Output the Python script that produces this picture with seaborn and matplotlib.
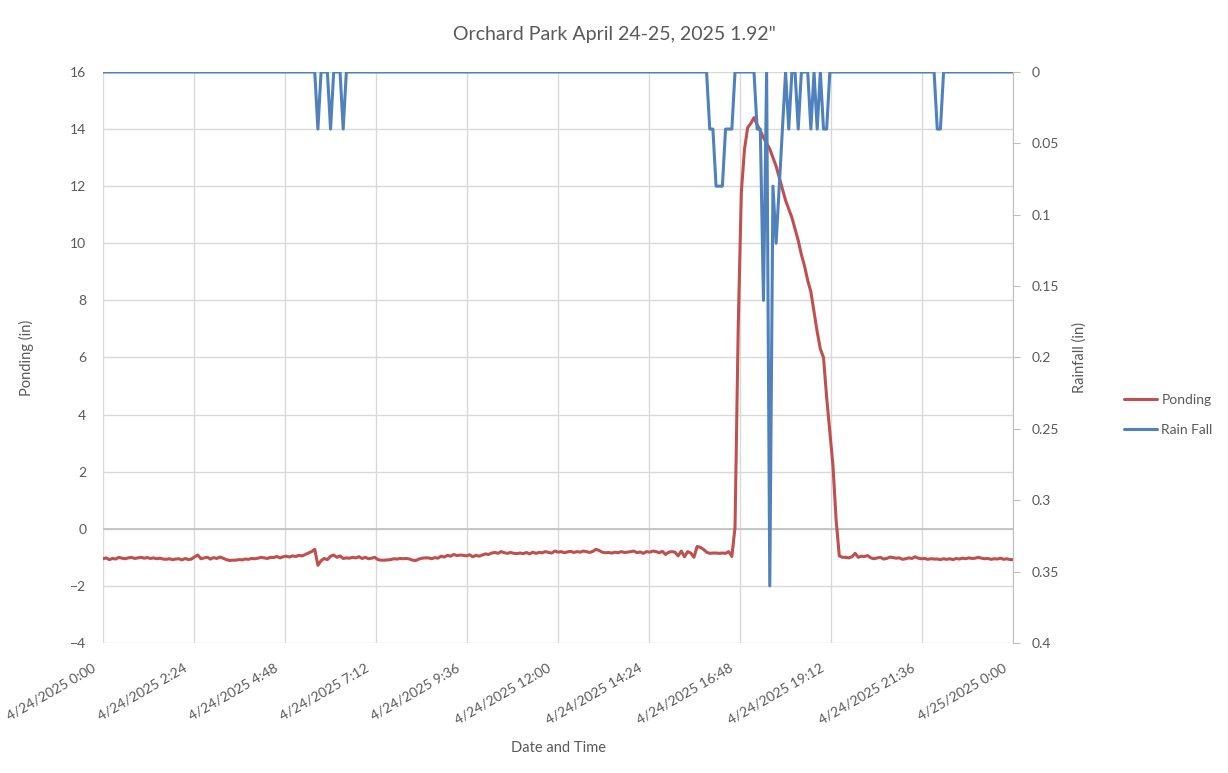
import pandas as pd
import seaborn as sns
import matplotlib.pyplot as plt
import matplotlib.dates as mdates
import matplotlib.transforms as mtransforms

# Orchard Park sensor data, 5-minute readings, 4/24/2025 0:00 -> 4/25/2025 0:00
ponding_by_hour = [
    [-1.05, -1.02, -1.08, -1.04, -1.06, -1.00, -1.03, -1.05, -1.02, -1.00, -1.04, -1.02],  # 0h
    [-1.00, -1.03, -1.01, -1.04, -1.02, -1.05, -1.03, -1.06, -1.07, -1.05, -1.08, -1.06],  # 1h
    [-1.05, -1.09, -1.04, -1.08, -1.06, -0.98, -0.92, -1.05, -1.02, -1.00, -1.06, -1.01],  # 2h
    [-1.04, -0.99, -1.03, -1.08, -1.11, -1.10, -1.10, -1.08, -1.09, -1.06, -1.07, -1.04],  # 3h
    [-1.05, -1.03, -1.00, -1.02, -1.04, -1.00, -1.01, -0.97, -1.02, -0.98, -0.96, -0.99],  # 4h
    [-0.95, -0.97, -0.93, -0.95, -0.90, -0.85, -0.80, -0.72, -1.28, -1.12, -1.04, -1.08],  # 5h
    [-0.96, -0.92, -1.00, -0.95, -1.04, -1.02, -1.03, -1.00, -1.02, -0.98, -1.04, -1.00],  # 6h
    [-1.05, -1.03, -1.00, -1.08, -1.10, -1.10, -1.09, -1.08, -1.05, -1.06, -1.04, -1.05],  # 7h
    [-1.04, -1.06, -1.10, -1.11, -1.06, -1.03, -1.02, -1.02, -1.05, -1.01, -1.03, -0.96],  # 8h
    [-0.99, -0.93, -0.96, -0.90, -0.94, -0.92, -0.93, -0.95, -0.91, -0.98, -0.93, -0.96],  # 9h
    [-0.92, -0.88, -0.90, -0.85, -0.83, -0.86, -0.80, -0.84, -0.86, -0.83, -0.86, -0.87],  # 10h
    [-0.85, -0.87, -0.83, -0.88, -0.82, -0.86, -0.83, -0.84, -0.80, -0.83, -0.85, -0.78],  # 11h
    [-0.82, -0.80, -0.84, -0.81, -0.79, -0.83, -0.80, -0.82, -0.78, -0.80, -0.83, -0.79],  # 12h
    [-0.72, -0.76, -0.82, -0.84, -0.83, -0.85, -0.82, -0.84, -0.80, -0.83, -0.82, -0.80],  # 13h
    [-0.78, -0.84, -0.81, -0.86, -0.80, -0.82, -0.78, -0.80, -0.84, -0.79, -0.90, -0.82],  # 14h
    [-0.80, -0.82, -0.95, -0.78, -0.98, -0.80, -0.85, -1.00, -0.62, -0.65, -0.72, -0.82],  # 15h
    [-0.86, -0.85, -0.85, -0.86, -0.85, -0.86, -0.80, -0.97, 0.05, 7.00, 11.80, 13.30],   # 16h
    [14.05, 14.20, 14.40, 14.15, 13.95, 13.70, 13.50, 13.30, 13.00, 12.70, 12.30, 11.90],  # 17h
    [11.50, 11.20, 10.90, 10.50, 10.10, 9.60, 9.20, 8.70, 8.30, 7.60, 6.90, 6.30],         # 18h
    [6.00, 4.60, 3.40, 2.20, 0.30, -0.95, -1.00, -1.00, -1.02, -0.98, -0.86, -1.00],       # 19h
    [-0.96, -0.97, -0.94, -1.02, -1.05, -1.02, -1.00, -1.06, -1.04, -0.99, -1.01, -1.03],  # 20h
    [-1.02, -1.07, -1.05, -1.02, -1.04, -0.98, -1.03, -1.05, -1.04, -1.07, -1.05, -1.06],  # 21h
    [-1.06, -1.08, -1.05, -1.07, -1.05, -1.08, -1.04, -1.06, -1.03, -1.05, -1.02, -1.04],  # 22h
    [-1.03, -1.00, -1.03, -1.05, -1.04, -1.07, -1.05, -1.06, -1.03, -1.07, -1.05, -1.08],  # 23h
]
ponding_end = [-1.08]

rain_by_hour = [
    [0, 0, 0, 0, 0, 0, 0, 0, 0, 0, 0, 0],  # 0h
    [0, 0, 0, 0, 0, 0, 0, 0, 0, 0, 0, 0],  # 1h
    [0, 0, 0, 0, 0, 0, 0, 0, 0, 0, 0, 0],  # 2h
    [0, 0, 0, 0, 0, 0, 0, 0, 0, 0, 0, 0],  # 3h
    [0, 0, 0, 0, 0, 0, 0, 0, 0, 0, 0, 0],  # 4h
    [0, 0, 0, 0, 0, 0, 0, 0, 0.04, 0, 0, 0],  # 5h
    [0.04, 0, 0, 0, 0.04, 0, 0, 0, 0, 0, 0, 0],  # 6h
    [0, 0, 0, 0, 0, 0, 0, 0, 0, 0, 0, 0],  # 7h
    [0, 0, 0, 0, 0, 0, 0, 0, 0, 0, 0, 0],  # 8h
    [0, 0, 0, 0, 0, 0, 0, 0, 0, 0, 0, 0],  # 9h
    [0, 0, 0, 0, 0, 0, 0, 0, 0, 0, 0, 0],  # 10h
    [0, 0, 0, 0, 0, 0, 0, 0, 0, 0, 0, 0],  # 11h
    [0, 0, 0, 0, 0, 0, 0, 0, 0, 0, 0, 0],  # 12h
    [0, 0, 0, 0, 0, 0, 0, 0, 0, 0, 0, 0],  # 13h
    [0, 0, 0, 0, 0, 0, 0, 0, 0, 0, 0, 0],  # 14h
    [0, 0, 0, 0, 0, 0, 0, 0, 0, 0, 0, 0],  # 15h
    [0.04, 0.04, 0.08, 0.08, 0.08, 0.04, 0.04, 0.04, 0, 0, 0, 0],  # 16h
    [0, 0, 0, 0.04, 0.04, 0.16, 0, 0.36, 0.08, 0.12, 0.08, 0.04],  # 17h
    [0, 0.04, 0, 0, 0.04, 0, 0, 0, 0.04, 0, 0.04, 0],  # 18h
    [0.04, 0.04, 0, 0, 0, 0, 0, 0, 0, 0, 0, 0],  # 19h
    [0, 0, 0, 0, 0, 0, 0, 0, 0, 0, 0, 0],  # 20h
    [0, 0, 0, 0, 0, 0, 0, 0, 0, 0, 0, 0],  # 21h
    [0.04, 0.04, 0, 0, 0, 0, 0, 0, 0, 0, 0, 0],  # 22h
    [0, 0, 0, 0, 0, 0, 0, 0, 0, 0, 0, 0],  # 23h
]
rain_end = [0]

xtick_labels = ["4/24/2025 0:00", "4/24/2025 2:24", "4/24/2025 4:48", "4/24/2025 7:12",
                "4/24/2025 9:36", "4/24/2025 12:00", "4/24/2025 14:24", "4/24/2025 16:48",
                "4/24/2025 19:12", "4/24/2025 21:36", "4/25/2025 0:00"]

ponding = [v for row in ponding_by_hour for v in row] + ponding_end
rain = [v for row in rain_by_hour for v in row] + rain_end
times = pd.date_range("2025-04-24 00:00", "2025-04-25 00:00", freq="5min")
df = pd.DataFrame({"time": times, "Ponding": ponding, "Rain Fall": rain})

sns.set_style("white")
plt.rcParams["font.family"] = ["Lato", "DejaVu Sans"]
gray = "#595959"
red = "#C0504D"
blue = "#4F81BD"

fig = plt.figure(figsize=(12.28, 7.73), dpi=100)
ax = fig.add_axes([0.0839, 0.1682, 0.7411, 0.7387])

sns.lineplot(data=df, x="time", y="Ponding", ax=ax, color=red, linewidth=2.2, label="Ponding", legend=False)
ax.set_ylim(-4, 16)
ax.set_yticks(range(-4, 17, 2))
ax.set_xlim(times[0], times[-1])
xticks = pd.date_range("2025-04-24 00:00", "2025-04-25 00:00", periods=11)
ax.set_xticks(xticks)
ax.set_xticklabels([])
# slanted date labels, ending a little left of / below each tick like the Excel original
lab_trans = ax.get_xaxis_transform() + mtransforms.ScaledTranslation(-0.11, -0.19, fig.dpi_scale_trans)
for t, txt in zip(xticks, xtick_labels):
    ax.text(mdates.date2num(t), 0, txt, transform=lab_trans, rotation=30, ha="right", va="top",
            rotation_mode="anchor", fontsize=10, color=gray)
ax.grid(True, color="#d9d9d9", linewidth=1)
ax.axhline(0, color="#bfbfbf", linewidth=1.2, zorder=1)
for s in ax.spines.values():
    s.set_visible(False)
ax.tick_params(axis="both", length=0, colors=gray, labelsize=10)
ax.tick_params(axis="y", pad=12)
ax.set_xlabel("Date and Time", color=gray, fontsize=10.5, labelpad=67)
ax.set_ylabel("Ponding (in)", color=gray, fontsize=10.5, labelpad=26)

ax2 = ax.twinx()
sns.lineplot(data=df, x="time", y="Rain Fall", ax=ax2, color=blue, linewidth=2.2, label="Rain Fall", legend=False)
ax2.set_ylim(0.4, 0)
rticks = [0, 0.05, 0.1, 0.15, 0.2, 0.25, 0.3, 0.35, 0.4]
ax2.set_yticks(rticks)
ax2.set_yticklabels([f"{t:g}" for t in rticks])
for name, s in ax2.spines.items():
    s.set_visible(name == "right")
ax2.spines["right"].set_color("#bfbfbf")
ax2.tick_params(axis="y", length=5, color="#bfbfbf", labelcolor=gray, labelsize=10, pad=8)
ax2.set_ylabel("Rainfall (in)", color=gray, fontsize=10.5, labelpad=10)
ax2.set_xlim(times[0], times[-1])

handles = ax.get_lines()[:1] + ax2.get_lines()[:1]
fig.legend(handles, ["Ponding", "Rain Fall"], loc="center left", bbox_to_anchor=(0.905, 0.463),
           frameon=False, handlelength=2.4, handletextpad=0.3, labelspacing=1.3,
           fontsize=10, labelcolor=gray)

fig.suptitle("Orchard Park April 24-25, 2025 1.92\"", y=0.955, va="center", color=gray, fontsize=14)

fig.savefig("out.png", dpi=100)
